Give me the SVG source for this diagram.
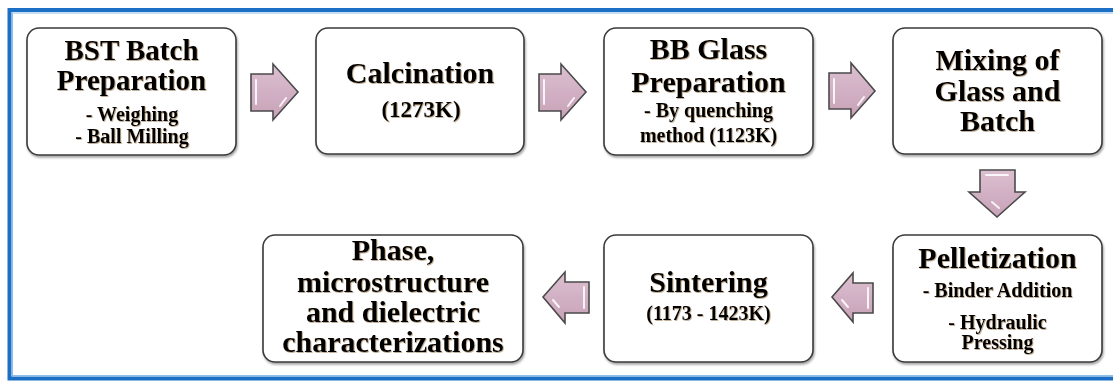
<svg xmlns="http://www.w3.org/2000/svg" width="1113" height="381" viewBox="0 0 1113 381">
<style>
.box{fill:#fff;stroke:#3a3a3a;stroke-width:1.6;filter:url(#bs)}
.t{font-family:"Liberation Serif","Times New Roman",serif;font-weight:bold;fill:#000;text-anchor:middle;filter:url(#ts)}
.h{font-size:30px}
.s{font-size:20px}
.arr{fill:url(#ag);stroke:#4a4a4a;stroke-width:1.6;stroke-linejoin:miter}
.hl{fill:none;stroke:#fff;stroke-width:2;stroke-linecap:round;opacity:0.85}
</style>
<defs>
<filter id="bs" x="-5%" y="-5%" width="115%" height="120%">
<feDropShadow dx="1" dy="2" stdDeviation="1.2" flood-color="#000" flood-opacity="0.35"/>
</filter>
<filter id="ts" x="-5%" y="-10%" width="110%" height="130%">
<feDropShadow dx="0.8" dy="0.8" stdDeviation="0.4" flood-color="#7a5a30" flood-opacity="0.6"/>
</filter>
<linearGradient id="ag" x1="0" y1="0" x2="0" y2="1">
<stop offset="0" stop-color="#dcc0d0"/>
<stop offset="0.5" stop-color="#d2b0c4"/>
<stop offset="1" stop-color="#c8a2b8"/>
</linearGradient>
</defs>
<rect width="1113" height="381" fill="#fff"/>
<rect x="9.5" y="10" width="1120" height="368.5" fill="none" stroke="#1b6fc4" stroke-width="4"/>
<rect x="12.5" y="13" width="1120" height="362.5" fill="none" stroke="#8fbfe8" stroke-width="1"/>

<g id="connectors">
<path class="arr" d="M251,74 H273 V64 L298,92 L273,120 V111 H251 Z"/>
<path class="hl" d="M256,80 V104 M286,98 L280,106"/>
<path class="arr" d="M539,74 H561 V64 L586,92 L561,120 V111 H539 Z"/>
<path class="hl" d="M544,80 V104 M574,98 L568,106"/>
<path class="arr" d="M829,73 H851 V63 L875,91 L851,118 V109 H829 Z"/>
<path class="hl" d="M834,79 V103 M864,97 L858,105"/>
<path class="arr" d="M980,170 H1015 V192 H1025 L997,217 L969,192 H980 Z"/>
<path class="hl" d="M986,175 H1008 M992,202 L999,208"/>
<path class="arr" d="M873,283 V313 H853 V322 L832,297 L853,273 V283 Z"/>
<path class="hl" d="M868,288 V308 M842,300 L848,307"/>
<path class="arr" d="M589,282 V313 H565 V323 L543,297 L565,272 V282 Z"/>
<path class="hl" d="M584,287 V308 M553,300 L559,307"/>
</g>

<g id="n-bst">
<rect class="box" x="27" y="28" width="209" height="127" rx="12"/>
<text class="t" style="font-size:29px" x="131.5" y="60">BST Batch</text>
<text class="t" style="font-size:29px" x="131.5" y="90">Preparation</text>
<text class="t s" x="132" y="121">- Weighing</text>
<text class="t s" x="132" y="143">- Ball Milling</text>
</g>
<g id="n-calcination">
<rect class="box" x="316" y="28" width="208" height="126" rx="12"/>
<text class="t h" x="420" y="83">Calcination</text>
<text class="t" style="font-size:23px" x="421" y="117">(1273K)</text>
</g>
<g id="n-bbglass">
<rect class="box" x="604" y="28" width="209" height="127" rx="12"/>
<text class="t h" x="708.5" y="59">BB Glass</text>
<text class="t h" x="708.5" y="92">Preparation</text>
<text class="t s" x="708.5" y="117">- By quenching</text>
<text class="t s" x="708.5" y="142">method (1123K)</text>
</g>
<g id="n-mixing">
<rect class="box" x="893" y="28" width="209" height="126" rx="12"/>
<text class="t h" x="997.5" y="70">Mixing of</text>
<text class="t h" x="997.5" y="101">Glass and</text>
<text class="t h" x="997.5" y="131">Batch</text>
</g>
<g id="n-pelletization">
<rect class="box" x="893" y="235" width="209" height="127" rx="12"/>
<text class="t h" x="997.5" y="268">Pelletization</text>
<text class="t s" x="997.5" y="297">- Binder Addition</text>
<text class="t s" x="997.5" y="329">- Hydraulic</text>
<text class="t s" x="997.5" y="349">Pressing</text>
</g>
<g id="n-sintering">
<rect class="box" x="604" y="235" width="209" height="127" rx="12"/>
<text class="t h" x="708.5" y="292">Sintering</text>
<text class="t s" x="708.5" y="320">(1173 - 1423K)</text>
</g>
<g id="n-phase">
<rect class="box" x="263" y="235" width="260" height="127" rx="12"/>
<text class="t h" x="393" y="260">Phase,</text>
<text class="t h" x="393" y="292">microstructure</text>
<text class="t h" x="393" y="322">and dielectric</text>
<text class="t h" x="393" y="352">characterizations</text>
</g>
</svg>
